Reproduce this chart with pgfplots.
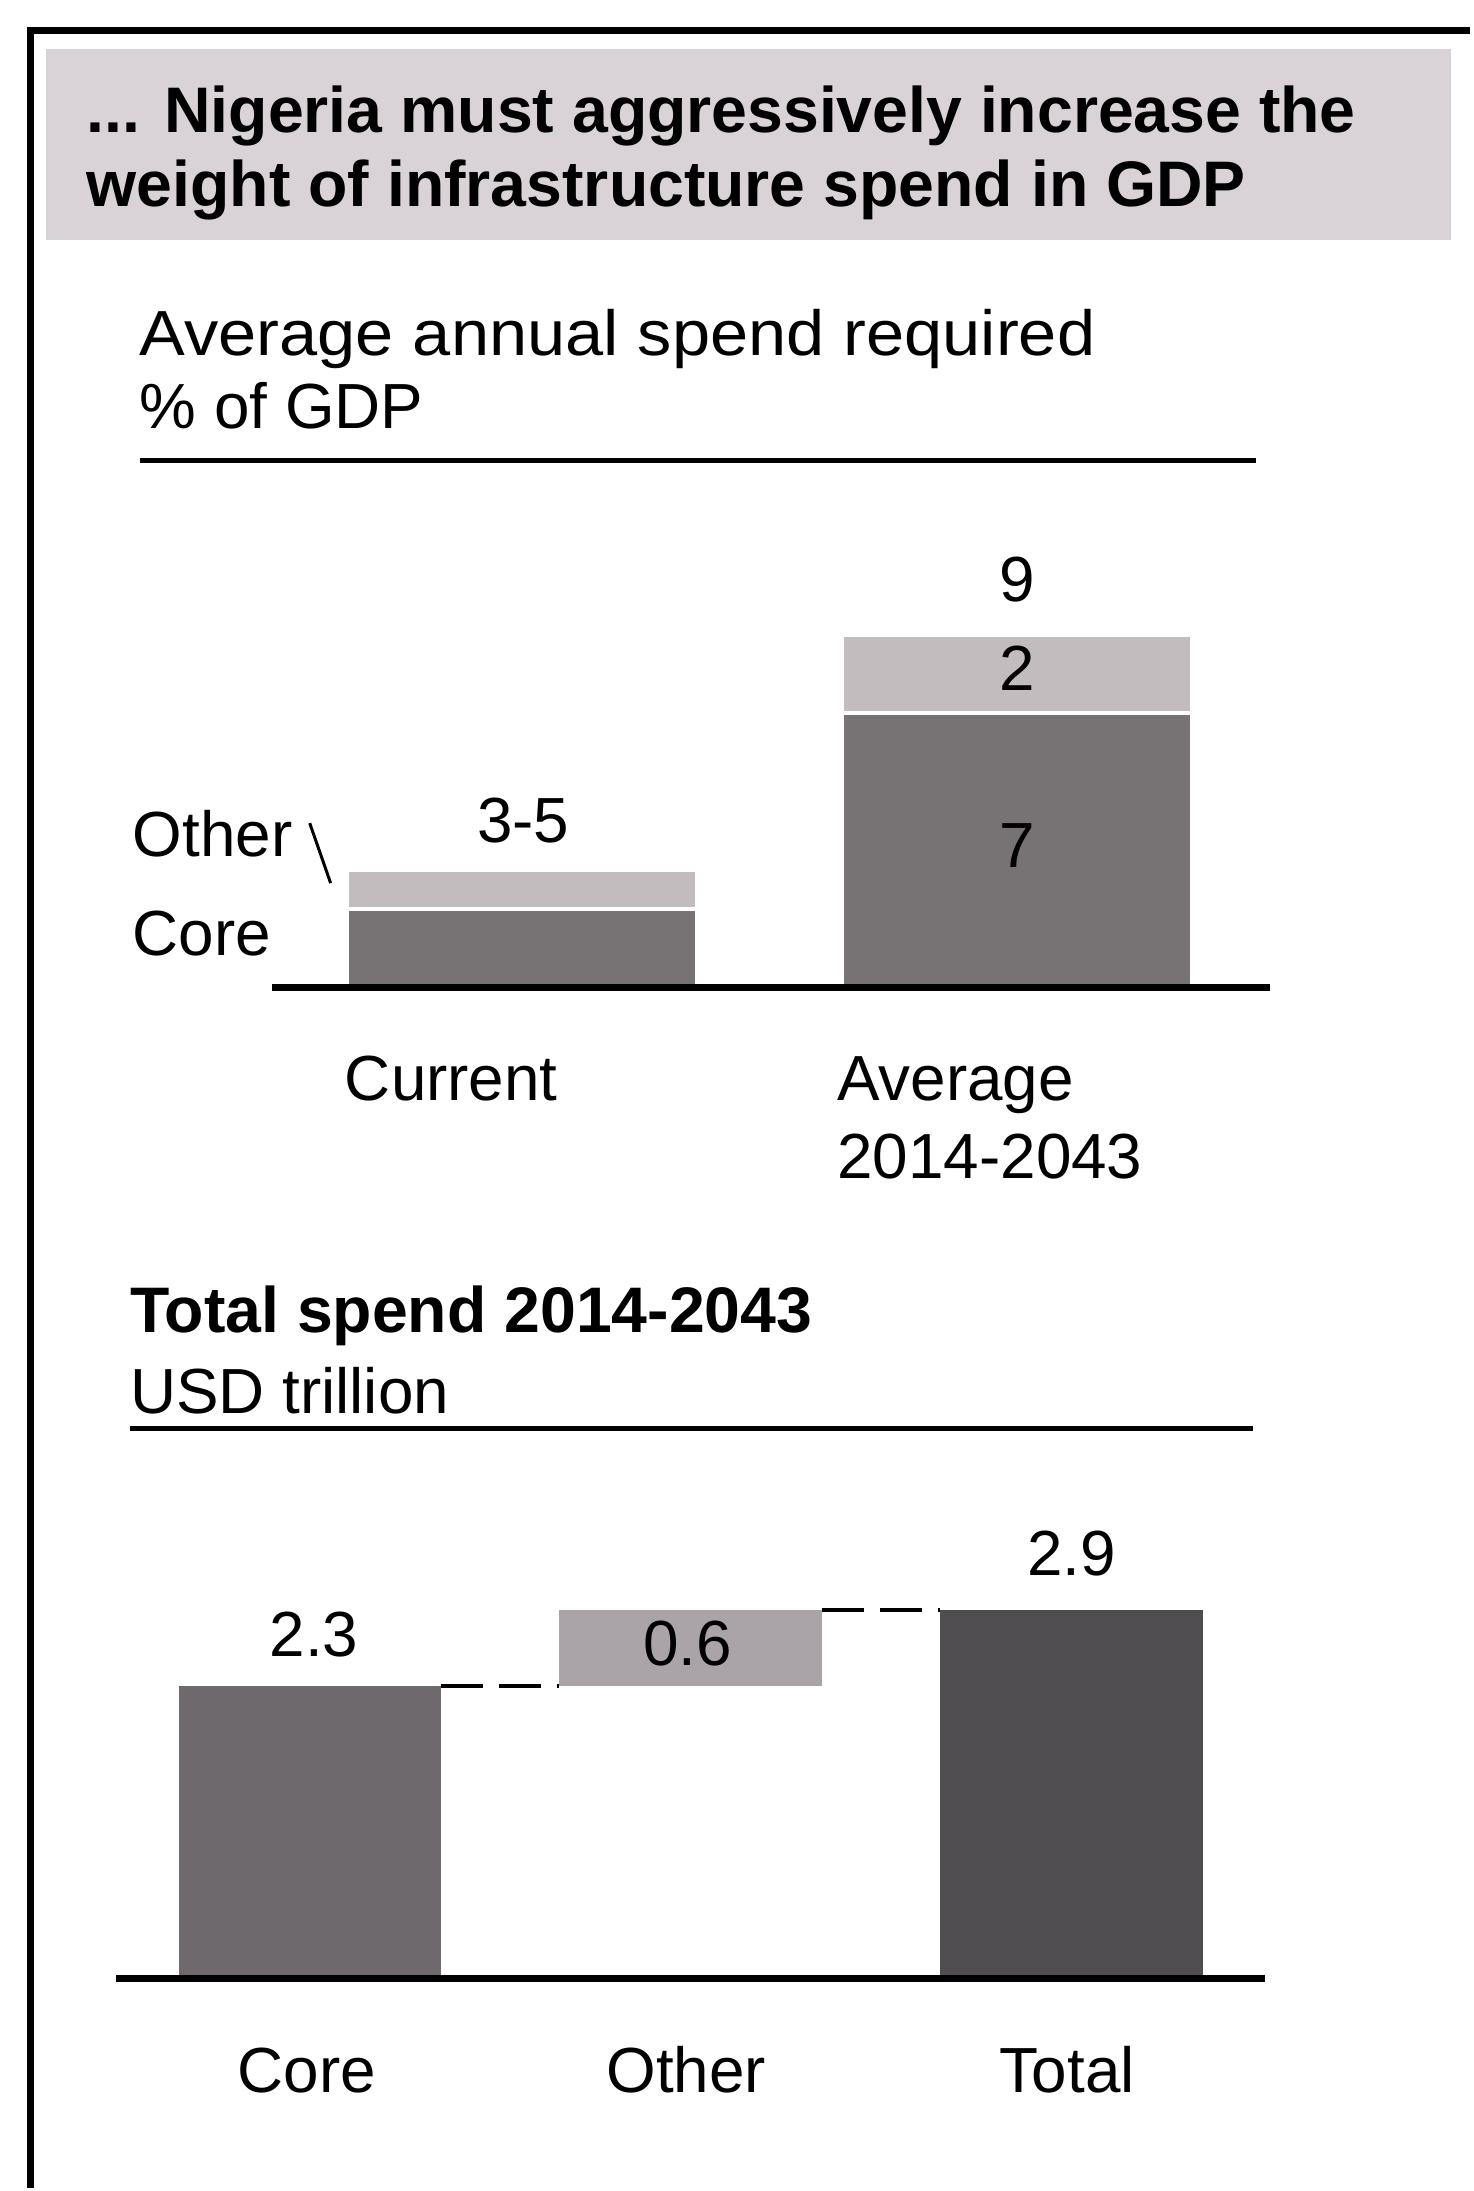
\documentclass[border=0pt]{standalone}
\usepackage{pgfplots}
\pgfplotsset{compat=1.18}
\usepackage{fontspec}
\setmainfont{Liberation Sans}
\definecolor{coreA}{HTML}{777375}
\definecolor{otherA}{HTML}{C3BCBF}
\definecolor{coreB}{HTML}{6D696D}
\definecolor{otherB}{HTML}{AAA3A7}
\definecolor{totalB}{HTML}{4F4D4F}
\definecolor{banner}{HTML}{D9D2D6}
\newcommand\f{\fontsize{32}{38}\selectfont}
\newcommand\fb{\fontsize{32.3}{38}\selectfont\bfseries}
\begin{document}
\begin{tikzpicture}
\begin{scope}[x=0.7pt,y=-0.7pt]
\fill[white] (0,0) rectangle (1054,1568);
\fill[banner] (33,35) rectangle (1040,172);
\draw[line width=3.5pt] (22,1568) -- (22,22) -- (1054,22);
\end{scope}

\begin{axis}[at={(136.5pt,-495.6pt)}, anchor=south west, scale only axis,
  width=500.5pt, height=196.7pt, xmin=-0.504, xmax=1.51, ymin=0, ymax=10,
  axis x line=bottom, axis y line=none, axis line style={-, line width=3.3pt},
  axis on top, xtick=\empty, ytick=\empty, ybar stacked, bar width=175.6pt, clip=false]
\addplot[fill=coreA, draw=white, line width=2pt] coordinates {(0,2) (1,7)};
\addplot[fill=otherA, draw=white, line width=2pt] coordinates {(0,1) (1,2)};
\end{axis}

\begin{axis}[at={(58.1pt,-992.6pt)}, anchor=south west, scale only axis,
  width=576.8pt, height=203.7pt, xmin=-0.509, xmax=2.509, ymin=0, ymax=3.2,
  axis x line=bottom, axis y line=none, axis line style={-, line width=3.3pt},
  axis on top, xtick=\empty, ytick=\empty, ybar stacked, bar width=131.6pt, clip=false]
\addplot[fill=none, draw=none] coordinates {(0,0) (1,2.3) (2,0)};
\addplot[fill=coreB, draw=none] coordinates {(0,2.3) (1,0) (2,0)};
\addplot[fill=otherB, draw=none] coordinates {(0,0) (1,0.6) (2,0)};
\addplot[fill=totalB, draw=none] coordinates {(0,0) (1,0) (2,2.9)};
\draw[line width=2pt, dash pattern=on 21pt off 8pt] (axis cs:0.345,2.3) -- (axis cs:0.655,2.3);
\draw[line width=2pt, dash pattern=on 21pt off 8pt] (axis cs:1.345,2.9) -- (axis cs:1.655,2.9);
\end{axis}

\begin{scope}[x=0.7pt,y=-0.7pt, every node/.style={inner sep=0pt}]
\node[anchor=base west, font=\fb] at (62,95) {... Nigeria must aggressively increase the};
\node[anchor=base west, font=\fb] at (62,148) {weight of infrastructure spend in GDP};
\node[anchor=base west, font=\f] at (100,255) {\scalebox{1.075}[1]{Average annual spend required}};
\node[anchor=base west, font=\f] at (100,307) {\% of GDP};
\draw[line width=2.2pt] (100,330) -- (900,330);
\node[anchor=base west, font=\f] at (95,614) {Other};
\node[anchor=base west, font=\f] at (95,685) {Core};
\draw[line width=1.5pt] (222,590) -- (237,633);
\node[anchor=base west, font=\f] at (247,789) {Current};
\node[anchor=base west, font=\f] at (600,789) {Average};
\node[anchor=base west, font=\f] at (600,845) {2014-2043};
\node[anchor=base, font=\f] at (729,431) {9};
\node[anchor=base, font=\f] at (729,495) {2};
\node[anchor=base, font=\f] at (729,622) {7};
\node[anchor=base, font=\f] at (375,604) {3-5};
\node[anchor=base west, font=\fb] at (93,955) {Total spend 2014-2043};
\node[anchor=base west, font=\f] at (93,1013) {USD trillion};
\draw[line width=2.2pt] (93,1024) -- (898,1024);
\node[anchor=base, font=\f] at (225,1187) {2.3};
\node[anchor=base, font=\f] at (493,1194) {0.6};
\node[anchor=base, font=\f] at (768,1129) {2.9};
\node[anchor=base, font=\f] at (220,1500) {Core};
\node[anchor=base, font=\f] at (492,1500) {Other};
\node[anchor=base, font=\f] at (765,1500) {Total};
\end{scope}
\end{tikzpicture}
\end{document}
